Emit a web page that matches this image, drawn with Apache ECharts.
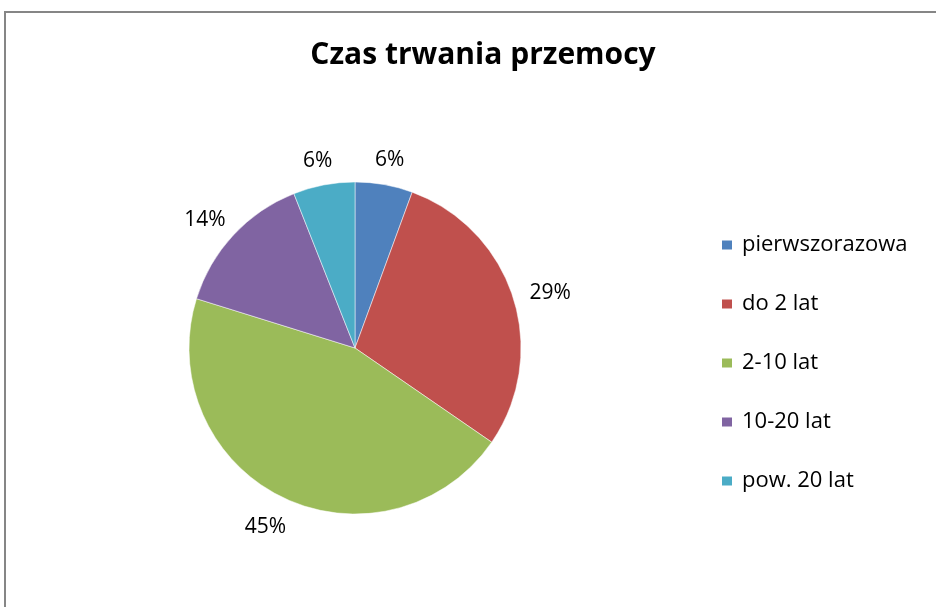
<!DOCTYPE html>
<html>
<head>
<meta charset="utf-8">
<script src="https://cdn.jsdelivr.net/npm/echarts@6/dist/echarts.min.js"></script>
<style>
  html, body { margin: 0; padding: 0; background: #fff; }
  #chart { width: 936px; height: 607px; }
</style>
</head>
<body>
<div id="chart"></div>
<script>
// kategorie i udzialy
var categories = ['pierwszorazowa', 'do 2 lat', '2-10 lat', '10-20 lat', 'pow. 20 lat'];
var shares = [5.6, 29.0, 45.2, 14.2, 6.0];
var colors = ['#4F81BD', '#C0504D', '#9BBB59', '#8064A2', '#4BACC6'];

var pieCenter = [355, 348];
var pieRadius = 166;
var labelGap = 18; // odstep etykiety od krawedzi kola
var labelShiftY = 4; // korekta metryki fontu

var myChart = echarts.init(document.getElementById('chart'));

var pieData = [];
var total = 0;
for (var i = 0; i < categories.length; i++) {
    pieData.push({ name: categories[i], value: shares[i] });
    total += shares[i];
}

// kat srodka wycinka (zgodnie z ruchem wskazowek, od gory)
function midAngle(idx) {
    var before = 0;
    for (var k = 0; k < idx; k++) before += shares[k];
    return (before + shares[idx] / 2) / total * Math.PI * 2;
}

var option = {
    backgroundColor: '#fff',
    color: colors,
    animation: false,
    graphic: [{
        type: 'rect',
        shape: { x: 5, y: 12, width: 1000, height: 700 },
        style: { fill: 'none', stroke: '#868686', lineWidth: 2 }
    }],
    title: {
        text: 'Czas trwania przemocy',
        left: 478,
        top: 35,
        textAlign: 'center',
        textStyle: {
            fontFamily: 'Open Sans',
            fontWeight: 'bold',
            fontSize: 30,
            color: '#000'
        }
    },
    legend: {
        orient: 'vertical',
        left: 715,
        top: 229,
        itemWidth: 12,
        itemHeight: 11,
        itemGap: 37,
        icon: 'rect',
        textStyle: {
            fontFamily: 'Open Sans',
            fontSize: 22,
            lineHeight: 20,
            color: '#000',
            padding: [0, 0, 0, 4]
        }
    },
    series: [{
        type: 'pie',
        center: pieCenter,
        radius: pieRadius,
        startAngle: 90,
        clockwise: true,
        data: pieData,
        itemStyle: { borderColor: '#fff', borderWidth: 0.5 },
        label: {
            show: true,
            position: 'outside',
            formatter: function (p) { return Math.round(p.percent) + '%'; },
            fontFamily: 'Open Sans',
            fontSize: 21,
            color: '#000'
        },
        labelLine: { show: false },
        labelLayout: function (params) {
            var a = midAngle(params.dataIndex);
            var s = Math.sin(a), c = Math.cos(a);
            var w = params.labelRect.width, h = params.labelRect.height;
            var r = pieRadius + labelGap;
            return {
                x: pieCenter[0] + s * r + s * w / 2,
                y: pieCenter[1] - c * r - c * h / 2 + labelShiftY,
                align: 'center',
                verticalAlign: 'middle'
            };
        },
        emphasis: { disabled: true }
    }]
};

myChart.setOption(option);
window.addEventListener('resize', function () {
    myChart.resize();
});
</script>
</body>
</html>
